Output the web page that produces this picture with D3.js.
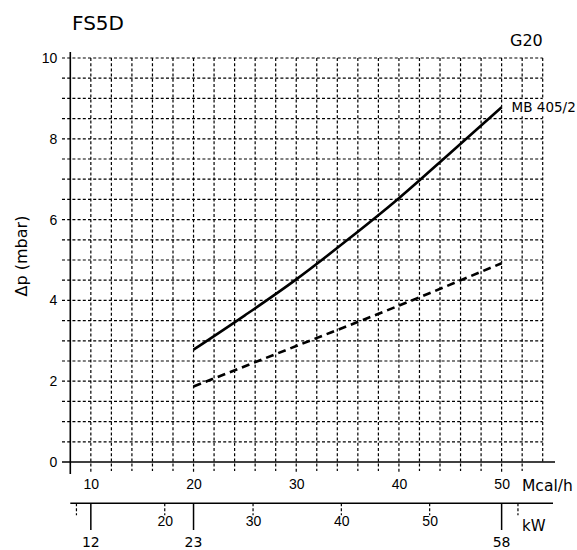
<!DOCTYPE html>
<html><head><meta charset="utf-8">
<script src="https://cdn.jsdelivr.net/npm/d3@7"></script>
<style>
html,body{margin:0;padding:0;background:#fff;}
svg{display:block;font-family:"DejaVu Sans",sans-serif;}
</style></head>
<body><svg id="c" width="577" height="550"></svg>
<script>
// ---- data ----
const title = "FS5D";
const gasLabel = "G20";
const seriesName = "MB 405/2";
const flowMcal = [20, 25, 30, 35, 40, 45, 50];
const dpSolid = [2.78, 3.63, 4.52, 5.50, 6.53, 7.65, 8.78];
const flowDashed = [20, 30, 40, 50];
const dpDashed = [1.87, 2.87, 3.87, 4.92];
const yTickLabels = [0, 2, 4, 6, 8, 10];
const mcalTickLabels = [10, 20, 30, 40, 50];
const kwMinorTicks = [10, 20, 30, 40, 50, 60];
const kwMinorLabels = [20, 30, 40, 50];
const rangeMcal = [10, 20, 50];
const rangeKwLabels = ["12", "23", "58"];
const kwPerMcal = 1.163;

// ---- scales ----
const svg = d3.select("#c");
const x = d3.scaleLinear().domain([8, 54]).range([70.3, 542.7]);
const y = d3.scaleLinear().domain([0, 10]).range([462, 58]);
const xKw = d3.scaleLinear().domain([8 * kwPerMcal, 54 * kwPerMcal]).range([70.3, 542.7]);

const gridDash = "3,2.2";
// horizontal grid
const hVals = d3.range(0.5, 10.01, 0.5);
svg.append("g").selectAll("line").data(hVals).join("line")
  .attr("x1", 62).attr("x2", x(54))
  .attr("y1", d => y(d)).attr("y2", d => y(d))
  .attr("stroke", "#000").attr("stroke-width", 1.2).attr("stroke-dasharray", gridDash);
// vertical grid
const vVals = d3.range(10, 54.01, 2);
svg.append("g").selectAll("line").data(vVals).join("line")
  .attr("x1", d => x(d)).attr("x2", d => x(d))
  .attr("y1", y(10)).attr("y2", d => d === 54 ? y(0) : (d % 10 === 0 ? 473 : 471))
  .attr("stroke", "#000").attr("stroke-width", 1.2).attr("stroke-dasharray", gridDash);

// axes lines
svg.append("line").attr("x1", x(8)).attr("x2", x(8)).attr("y1", 52).attr("y2", 474)
  .attr("stroke", "#000").attr("stroke-width", 1.6);
svg.append("line").attr("x1", 62).attr("x2", 555).attr("y1", y(0)).attr("y2", y(0))
  .attr("stroke", "#000").attr("stroke-width", 1.6);

// y axis labels
const yAxis = d3.axisLeft(y).tickValues(yTickLabels).tickSize(0).tickPadding(13).tickFormat(d3.format("d"));
const gy = svg.append("g").attr("transform", `translate(${x(8)},0)`).call(yAxis);
gy.select(".domain").remove();
gy.selectAll("text").attr("font-size", 14).attr("fill", "#000").attr("font-family", "inherit");

// x (Mcal/h) axis labels
const xAxis = d3.axisBottom(x).tickValues(mcalTickLabels).tickSize(0).tickPadding(17);
const gx = svg.append("g").attr("transform", `translate(0,${y(0)})`).call(xAxis);
gx.select(".domain").remove();
gx.selectAll("text").attr("font-size", 14).attr("fill", "#000").attr("font-family", "inherit");
svg.append("text").attr("x", 522).attr("y", 491).attr("font-size", 15.5).text("Mcal/h");

// kW axis
const kwY = 503.3;
svg.append("line").attr("x1", x(8)).attr("x2", 553).attr("y1", kwY).attr("y2", kwY)
  .attr("stroke", "#000").attr("stroke-width", 1.5);
svg.append("g").selectAll("line").data(kwMinorTicks).join("line")
  .attr("x1", d => xKw(d)).attr("x2", d => xKw(d)).attr("y1", kwY).attr("y2", kwY + 12)
  .attr("stroke", "#000").attr("stroke-width", 1.2).attr("stroke-dasharray", "3,2");
const kwAxis = d3.axisBottom(xKw).tickValues(kwMinorLabels).tickSize(0).tickPadding(13);
const gk = svg.append("g").attr("transform", `translate(0,${kwY})`).call(kwAxis);
gk.select(".domain").remove();
gk.selectAll("text").attr("font-size", 14).attr("fill", "#000").attr("font-family", "inherit");
svg.append("text").attr("x", 522).attr("y", 531).attr("font-size", 15).text("kW");
// range ticks
svg.append("g").selectAll("line").data(rangeMcal).join("line")
  .attr("x1", d => x(d)).attr("x2", d => x(d)).attr("y1", kwY).attr("y2", 530)
  .attr("stroke", "#000").attr("stroke-width", 1.5);
svg.append("g").selectAll("text").data(rangeMcal).join("text")
  .attr("x", d => x(d)).attr("y", 547).attr("text-anchor", "middle").attr("font-size", 14)
  .text((d, i) => rangeKwLabels[i]);

// curves
const line = d3.line().x(d => x(d[0])).y(d => y(d[1])).curve(d3.curveMonotoneX);
svg.append("path").datum(flowMcal.map((f, i) => [f, dpSolid[i]]))
  .attr("d", line).attr("fill", "none").attr("stroke", "#000").attr("stroke-width", 2.6);
svg.append("path").datum(flowDashed.map((f, i) => [f, dpDashed[i]]))
  .attr("d", line).attr("fill", "none").attr("stroke", "#000").attr("stroke-width", 2.6)
  .attr("stroke-dasharray", "8,5");

// series label with white box
const lx = x(50) + 10, ly = y(dpSolid[dpSolid.length - 1]) + 5;
svg.append("rect").attr("x", lx - 3).attr("y", ly - 13).attr("width", 72).attr("height", 17).attr("fill", "#fff");
svg.append("text").attr("x", lx).attr("y", ly).attr("font-size", 13.5).text(seriesName);

// titles
svg.append("text").attr("x", 72).attr("y", 30).attr("font-size", 20).text(title);
svg.append("text").attr("x", 510).attr("y", 46).attr("font-size", 16).text(gasLabel);
svg.append("text").attr("transform", "translate(27,256) rotate(-90)").attr("text-anchor", "middle")
  .attr("font-size", 16).text("Δp (mbar)");
</script></body></html>
